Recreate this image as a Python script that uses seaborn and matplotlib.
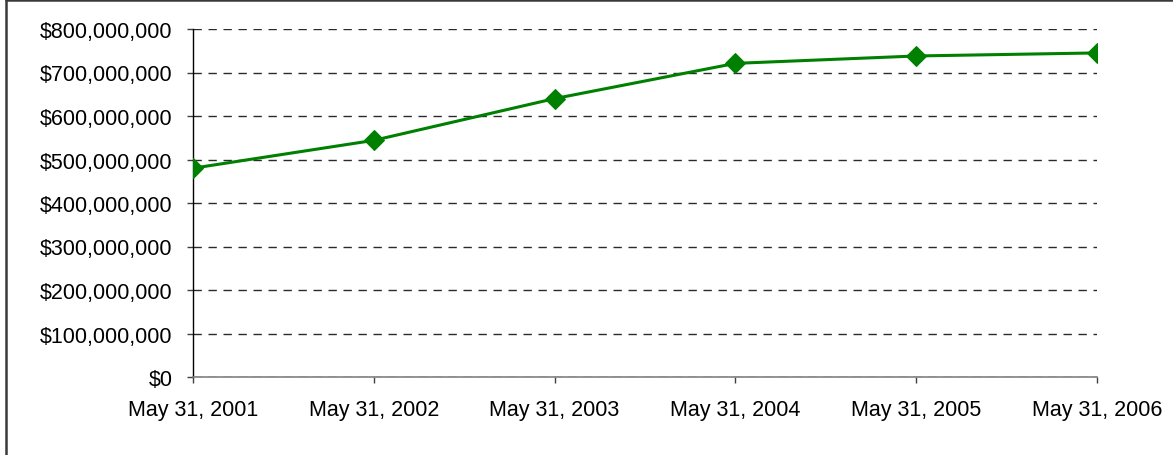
import matplotlib
matplotlib.use("Agg")
import matplotlib.pyplot as plt
from matplotlib.ticker import FuncFormatter, MultipleLocator
from matplotlib.lines import Line2D
import pandas as pd
import seaborn as sns

dates = ["May 31, 2001", "May 31, 2002", "May 31, 2003",
         "May 31, 2004", "May 31, 2005", "May 31, 2006"]
values = [480_000_000, 544_000_000, 640_000_000,
          721_000_000, 738_000_000, 745_000_000]

sns.set_theme(style="white")
plt.rcParams["font.family"] = ["Liberation Sans", "DejaVu Sans"]

df = pd.DataFrame({"date": dates, "value": values})
df["pos"] = range(len(dates))

fig = plt.figure(figsize=(11.73, 4.56), dpi=100)
ax = fig.add_axes([193 / 1173, 78 / 456, 904 / 1173, 348 / 456])

sns.lineplot(data=df, x="pos", y="value", ax=ax, color="#008000",
             linewidth=2.2, marker="D", markersize=10.5,
             markeredgecolor="#008000", zorder=3)

ax.set_xlim(0, len(dates) - 1)
ax.set_ylim(0, 800_000_000)
ax.set_xticks(df["pos"])
ax.set_xticklabels(dates)
ax.yaxis.set_major_locator(MultipleLocator(100_000_000))
ax.yaxis.set_major_formatter(FuncFormatter(lambda v, p: "${:,.0f}".format(v)))
ax.set_xlabel("")
ax.set_ylabel("")

ax.grid(axis="y", linestyle=(0, (6, 4.8)), color="#2a2a2a", linewidth=1.0)
ax.grid(axis="x", visible=False)
ax.set_axisbelow(True)

for s in ["top", "right"]:
    ax.spines[s].set_visible(False)
ax.spines["left"].set_color("black")
ax.spines["left"].set_linewidth(1.0)
ax.spines["bottom"].set_color("#808080")
ax.spines["bottom"].set_linewidth(1.2)

ax.tick_params(axis="y", direction="out", length=4.3, width=1, color="#404040",
               labelsize=15.5, labelcolor="black", pad=10.5, left=True)
ax.tick_params(axis="x", direction="out", length=4.3, width=1, color="#404040",
               labelsize=15.5, labelcolor="black", pad=11.5, bottom=True)

# frame lines along the left and top edges of the figure
fig.add_artist(Line2D([5.5 / 1173, 5.5 / 1173], [0, 1], transform=fig.transFigure,
                      color="#3a3a3a", linewidth=1.8))
fig.add_artist(Line2D([5.5 / 1173, 1], [1 - 1 / 456, 1 - 1 / 456], transform=fig.transFigure,
                      color="#3a3a3a", linewidth=1.8))

fig.savefig("out.png", dpi=100)
